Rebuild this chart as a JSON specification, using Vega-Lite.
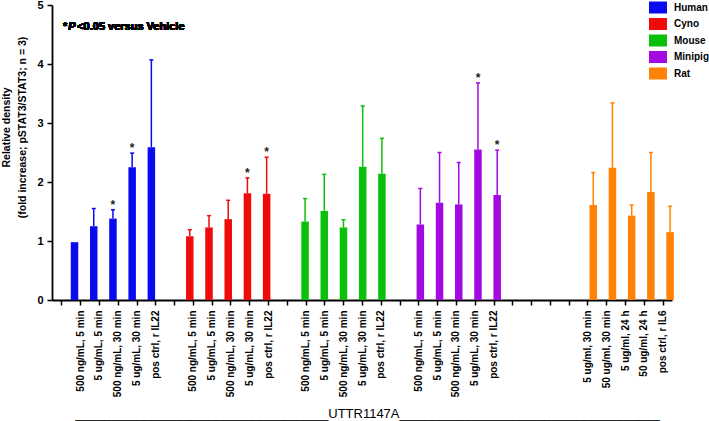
{
  "$schema": "https://vega.github.io/schema/vega-lite/v6.json",
  "width": 620,
  "height": 295,
  "autosize": "none",
  "padding": {"left": 52, "top": 5, "right": 37, "bottom": 121},
  "background": "white",
  "config": {
    "view": {"stroke": null},
    "font": "Liberation Sans",
    "axis": {"grid": false, "domainColor": "black", "tickColor": "black", "labelColor": "black", "titleColor": "black", "domainWidth": 1.8, "tickWidth": 1.5}
  },
  "data": {
    "values": [
      {"species": "Human", "key": "Human|500 ng/mL, 5 min", "value": 0.98, "upper": null, "sig": false},
      {"species": "Human", "key": "Human|5 ug/mL, 5 min", "value": 1.25, "upper": 1.55, "sig": false},
      {"species": "Human", "key": "Human|500 ng/mL, 30 min", "value": 1.38, "upper": 1.53, "sig": true},
      {"species": "Human", "key": "Human|5 ug/mL, 30 min", "value": 2.25, "upper": 2.49, "sig": true},
      {"species": "Human", "key": "Human|pos ctrl, r IL22", "value": 2.59, "upper": 4.07, "sig": false},
      {"species": "Cyno", "key": "Cyno|500 ng/mL, 5 min", "value": 1.08, "upper": 1.19, "sig": false},
      {"species": "Cyno", "key": "Cyno|5 ug/mL, 5 min", "value": 1.23, "upper": 1.43, "sig": false},
      {"species": "Cyno", "key": "Cyno|500 ng/mL, 30 min", "value": 1.37, "upper": 1.69, "sig": false},
      {"species": "Cyno", "key": "Cyno|5 ug/mL, 30 min", "value": 1.81, "upper": 2.07, "sig": true},
      {"species": "Cyno", "key": "Cyno|pos ctrl, r IL22", "value": 1.8, "upper": 2.42, "sig": true},
      {"species": "Mouse", "key": "Mouse|500 ng/mL, 5 min", "value": 1.33, "upper": 1.72, "sig": false},
      {"species": "Mouse", "key": "Mouse|5 ug/mL, 5 min", "value": 1.51, "upper": 2.13, "sig": false},
      {"species": "Mouse", "key": "Mouse|500 ng/mL, 30 min", "value": 1.23, "upper": 1.36, "sig": false},
      {"species": "Mouse", "key": "Mouse|5 ug/mL, 30 min", "value": 2.26, "upper": 3.29, "sig": false},
      {"species": "Mouse", "key": "Mouse|pos ctrl, r IL22", "value": 2.14, "upper": 2.74, "sig": false},
      {"species": "Minipig", "key": "Minipig|500 ng/mL, 5 min", "value": 1.28, "upper": 1.89, "sig": false},
      {"species": "Minipig", "key": "Minipig|5 ug/mL, 5 min", "value": 1.65, "upper": 2.5, "sig": false},
      {"species": "Minipig", "key": "Minipig|500 ng/mL, 30 min", "value": 1.62, "upper": 2.33, "sig": false},
      {"species": "Minipig", "key": "Minipig|5 ug/mL, 30 min", "value": 2.55, "upper": 3.68, "sig": true},
      {"species": "Minipig", "key": "Minipig|pos ctrl, r IL22", "value": 1.78, "upper": 2.54, "sig": true},
      {"species": "Rat", "key": "Rat|5 ug/ml, 30 min", "value": 1.61, "upper": 2.16, "sig": false},
      {"species": "Rat", "key": "Rat|50 ug/ml, 30 min", "value": 2.24, "upper": 3.34, "sig": false},
      {"species": "Rat", "key": "Rat|5 ug/ml, 24 h", "value": 1.43, "upper": 1.61, "sig": false},
      {"species": "Rat", "key": "Rat|50 ug/ml, 24 h", "value": 1.83, "upper": 2.5, "sig": false},
      {"species": "Rat", "key": "Rat|pos ctrl, r IL6", "value": 1.15, "upper": 1.59, "sig": false}
    ]
  },
  "resolve": {"scale": {"x": "independent"}},
  "layer": [
    {
      "encoding": {
        "x": {
          "field": "key",
          "type": "nominal",
          "sort": null,
          "scale": {
            "domain": ["gap0",
              "Human|500 ng/mL, 5 min", "Human|5 ug/mL, 5 min", "Human|500 ng/mL, 30 min", "Human|5 ug/mL, 30 min", "Human|pos ctrl, r IL22",
              "gap1",
              "Cyno|500 ng/mL, 5 min", "Cyno|5 ug/mL, 5 min", "Cyno|500 ng/mL, 30 min", "Cyno|5 ug/mL, 30 min", "Cyno|pos ctrl, r IL22",
              "gap2",
              "Mouse|500 ng/mL, 5 min", "Mouse|5 ug/mL, 5 min", "Mouse|500 ng/mL, 30 min", "Mouse|5 ug/mL, 30 min", "Mouse|pos ctrl, r IL22",
              "gap3",
              "Minipig|500 ng/mL, 5 min", "Minipig|5 ug/mL, 5 min", "Minipig|500 ng/mL, 30 min", "Minipig|5 ug/mL, 30 min", "Minipig|pos ctrl, r IL22",
              "gap4", "gap5", "gap6", "gap7",
              "Rat|5 ug/ml, 30 min", "Rat|50 ug/ml, 30 min", "Rat|5 ug/ml, 24 h", "Rat|50 ug/ml, 24 h", "Rat|pos ctrl, r IL6"],
            "range": [-6.3, 627.7],
            "paddingInner": 0,
            "paddingOuter": 0
          },
          "axis": null
        }
      },
      "layer": [
        {
          "mark": {"type": "bar", "size": 7.5},
          "encoding": {
            "y": {
              "field": "value",
              "type": "quantitative",
              "scale": {"domain": [0, 5], "nice": false},
              "axis": {
                "values": [0, 1, 2, 3, 4, 5],
                "format": "d",
                "title": ["Relative density", "(fold increase; pSTAT3/STAT3; n = 3)"],
                "titleFontSize": 10.5,
                "titleFontWeight": "bold",
                "titleAngle": -90,
                "titleBaseline": "top",
                "titleAlign": "center",
                "titleX": -51,
                "titleY": 122,
                "titleLineHeight": 16,
                "labelFontSize": 11,
                "labelFontWeight": "bold",
                "labelPadding": 4,
                "tickSize": 5
              }
            },
            "color": {
              "field": "species",
              "type": "nominal",
              "scale": {
                "domain": ["Human", "Cyno", "Mouse", "Minipig", "Rat"],
                "range": ["#0a0af0", "#f00a0a", "#0ac00a", "#a30ae0", "#ff8205"]
              },
              "legend": {
                "orient": "none",
                "legendX": 600,
                "legendY": -3.5,
                "title": null,
                "symbolType": "M-1.5,-1H1.5V1H-1.5Z",
                "symbolSize": 144,
                "symbolStrokeWidth": 0,
                "symbolOpacity": 1,
                "labelFontSize": 10,
                "labelFontWeight": "bold",
                "labelColor": "black",
                "labelOffset": 10,
                "rowPadding": 4.5,
                "padding": 0
              }
            }
          }
        },
        {
          "transform": [{"filter": "datum.upper != null"}],
          "mark": {"type": "rule", "strokeWidth": 1.5, "opacity": 1},
          "encoding": {
            "y": {"field": "value", "type": "quantitative"},
            "y2": {"field": "upper"},
            "color": {"field": "species", "type": "nominal", "legend": null}
          }
        },
        {
          "transform": [{"filter": "datum.upper != null"}],
          "mark": {"type": "tick", "size": 4, "thickness": 1.5, "opacity": 1},
          "encoding": {
            "y": {"field": "upper", "type": "quantitative"},
            "color": {"field": "species", "type": "nominal", "legend": null}
          }
        },
        {
          "transform": [{"filter": "datum.sig"}],
          "mark": {"type": "text", "text": "*", "fontSize": 12, "fontWeight": "bold", "baseline": "alphabetic", "dy": -1, "color": "#222222"},
          "encoding": {
            "y": {"field": "upper", "type": "quantitative"}
          }
        }
      ]
    },
    {
      "encoding": {
        "x": {
          "datum": "gap0",
          "type": "nominal",
          "scale": {
            "domain": ["gap0",
              "Human|500 ng/mL, 5 min", "Human|5 ug/mL, 5 min", "Human|500 ng/mL, 30 min", "Human|5 ug/mL, 30 min", "Human|pos ctrl, r IL22",
              "gap1",
              "Cyno|500 ng/mL, 5 min", "Cyno|5 ug/mL, 5 min", "Cyno|500 ng/mL, 30 min", "Cyno|5 ug/mL, 30 min", "Cyno|pos ctrl, r IL22",
              "gap2",
              "Mouse|500 ng/mL, 5 min", "Mouse|5 ug/mL, 5 min", "Mouse|500 ng/mL, 30 min", "Mouse|5 ug/mL, 30 min", "Mouse|pos ctrl, r IL22",
              "gap3",
              "Minipig|500 ng/mL, 5 min", "Minipig|5 ug/mL, 5 min", "Minipig|500 ng/mL, 30 min", "Minipig|5 ug/mL, 30 min", "Minipig|pos ctrl, r IL22",
              "gap4", "gap5", "gap6", "gap7",
              "Rat|5 ug/ml, 30 min", "Rat|50 ug/ml, 30 min", "Rat|5 ug/ml, 24 h", "Rat|50 ug/ml, 24 h", "Rat|pos ctrl, r IL6"],
            "paddingInner": 0,
            "paddingOuter": 0
          },
          "axis": {
            "title": "___________________________________UTTR1147A____________________________________",
            "titleFontSize": 13,
            "titleFontWeight": "normal",
            "titleX": 315,
            "titleY": 117,
            "titleAlign": "center",
            "titleBaseline": "alphabetic",
            "labelExpr": "indexof(datum.value, '|') >= 0 ? split(datum.value, '|')[1] : ''",
            "labelAngle": -90,
            "labelFontSize": 10,
            "labelFontWeight": "bold",
            "labelPadding": 5,
            "tickSize": 5
          }
        },
        "y": {"datum": 4.63, "type": "quantitative"}
      },
      "layer": [
        {"mark": {"type": "text", "text": "*", "fontSize": 11, "fontWeight": "bold", "align": "left", "baseline": "middle", "dx": 1.6, "color": "black"}},
        {"mark": {"type": "text", "text": "P", "fontSize": 11, "fontWeight": "bold", "fontStyle": "italic", "align": "left", "baseline": "middle", "dx": 6.8, "color": "black"}},
        {"mark": {"type": "text", "text": "<0.05 versus Vehicle", "fontSize": 11, "fontWeight": "bold", "align": "left", "baseline": "middle", "dx": 15.8, "color": "black"}}
      ]
    }
  ]
}
